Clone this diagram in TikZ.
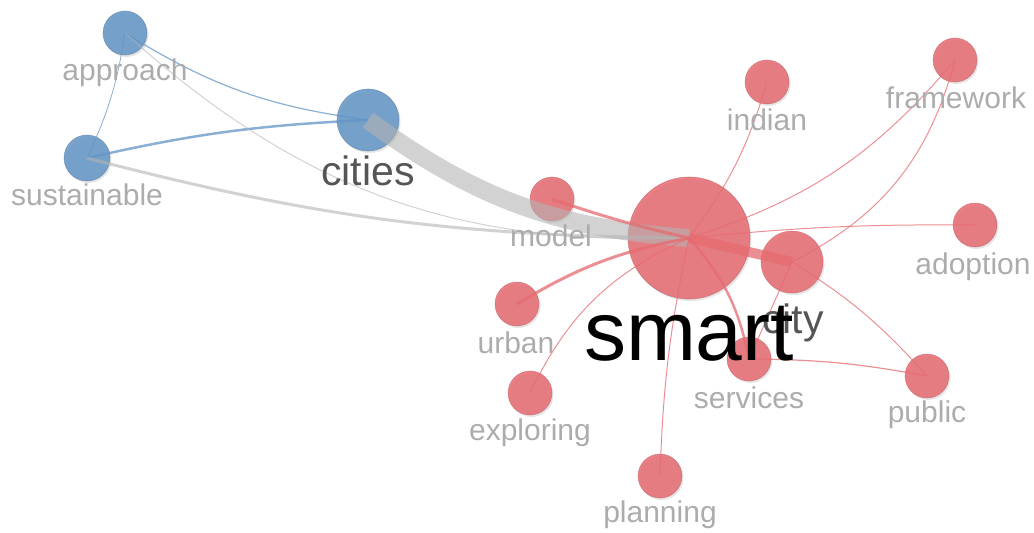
\documentclass[tikz,border=0pt]{standalone}
\usepackage{fontspec}
\setmainfont{Liberation Sans}
\usetikzlibrary{shadows}
\definecolor{kwblue}{RGB}{98,148,198}
\definecolor{kwred}{RGB}{230,106,112}
\definecolor{kwlabel}{RGB}{172,172,172}
\definecolor{kwdark}{RGB}{85,85,85}
\definecolor{kwlink}{RGB}{180,180,180}

\begin{document}
\begin{tikzpicture}[x=1pt,y=-1pt,
	kw/.style={circle,inner sep=0pt,minimum size=#1,fill opacity=0.85,draw opacity=0.5,line width=0.6pt,
		drop shadow={shadow xshift=1.5pt,shadow yshift=-2pt,opacity=0.2}},
	bluekw/.style={kw=#1,fill=kwblue,draw=kwblue!75!black},
	redkw/.style={kw=#1,fill=kwred,draw=kwred!80!black},
	lbl/.style={anchor=base,inner sep=0pt,text=kwlabel,font=\fontsize{30}{30}\selectfont},
	biglbl/.style={anchor=base,inner sep=0pt,text=kwdark,font=\fontsize{41}{41}\selectfont},
	bluelink/.style={draw=kwblue,opacity=0.75,line width=#1},
	redlink/.style={draw=kwred,opacity=0.75,line width=#1},
	greylink/.style={draw=kwlink,opacity=0.6,line width=#1}]
	\useasboundingbox (0,0) rectangle (1034,533);

	\node[bluekw=44pt] (approach) at (125,33) {};
	\node[bluekw=46pt] (sustainable) at (87,158) {};
	\node[bluekw=62pt] (cities) at (368,120) {};
	\node[redkw=44pt] (model) at (552,199) {};
	\node[redkw=122pt] (smart) at (689,238) {};
	\node[redkw=62pt] (city) at (792,262) {};
	\node[redkw=44pt] (indian) at (767,82) {};
	\node[redkw=44pt] (framework) at (955,60) {};
	\node[redkw=44pt] (adoption) at (975,225) {};
	\node[redkw=44pt] (urban) at (517,304) {};
	\node[redkw=44pt] (exploring) at (530,393) {};
	\node[redkw=44pt] (services) at (749,359) {};
	\node[redkw=44pt] (public) at (927,376) {};
	\node[redkw=44pt] (planning) at (660,476) {};

	\draw[bluelink=0.8pt] (approach.center) to[bend left=8] (sustainable.center);
	\draw[bluelink=1.2pt] (approach.center) to[bend right=12] (cities.center);
	\draw[bluelink=2.5pt] (sustainable.center) to[bend left=5] (cities.center);
	\draw[greylink=1pt] (approach.center) to[bend right=22] (smart.center);
	\draw[greylink=3pt] (sustainable.center) to[bend right=7] (smart.center);
	\draw[greylink=18pt] (cities.center) to[bend right=16] (smart.center);

	\draw[redlink=3pt] (model.center) to[bend right=3] (smart.center);
	\draw[redlink=3pt] (urban.center) to[bend left=10] (smart.center);
	\draw[redlink=1pt] (exploring.center) to[bend left=20] (smart.center);
	\draw[redlink=1pt] (planning.center) to[bend left=5] (smart.center);
	\draw[redlink=2.5pt] (smart.center) to[bend left=15] (services.center);
	\draw[redlink=10pt] (smart.center) -- (city.center);
	\draw[redlink=1pt] (indian.center) to[bend left=10] (smart.center);
	\draw[redlink=1pt] (smart.center) to[bend right=16] (framework.center);
	\draw[redlink=1pt] (city.center) to[bend right=24] (framework.center);
	\draw[redlink=1pt] (smart.center) to[bend left=3] (adoption.center);
	\draw[redlink=1pt] (city.center) to[bend left=8] (public.center);
	\draw[redlink=1.2pt] (services.center) to[bend left=5] (public.center);
	\draw[redlink=1pt] (city.center) -- (services.center);

	\node[lbl] (approach-l) at (125,80) {approach};
	\node[lbl] (sustainable-l) at (87,205) {sustainable};
	\node[biglbl] (cities-l) at (368,185) {cities};
	\node[lbl] (model-l) at (551,246) {model};
	\node[lbl] (indian-l) at (767,130) {indian};
	\node[lbl] (framework-l) at (956,108) {framework};
	\node[lbl] (adoption-l) at (973,274) {adoption};
	\node[lbl] (urban-l) at (516,353) {urban};
	\node[lbl] (exploring-l) at (530,440) {exploring};
	\node[lbl] (services-l) at (749,408) {services};
	\node[lbl] (public-l) at (927,422) {public};
	\node[lbl] (planning-l) at (660,522) {planning};
	\node[biglbl] (city-l) at (793,333) {city};
	\node[anchor=base,inner sep=0pt,font=\fontsize{84}{84}\selectfont] (smart-l) at (689,360) {smart};
\end{tikzpicture}
\end{document}
